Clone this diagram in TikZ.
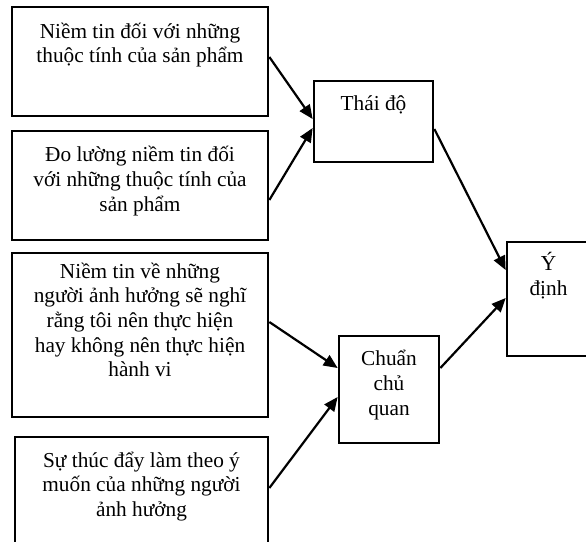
\documentclass[tikz,border=0pt]{standalone}
\usepackage{fontspec}
\setmainfont{Liberation Serif}
\usetikzlibrary{arrows.meta,calc}
\tikzset{
  box/.style={draw=black, line width=2.7pt, inner sep=0pt, rectangle},
  label/.style={anchor=north, inner sep=0pt, align=center, font=\fontsize{21.3}{24.6}\selectfont},
  conn/.style={line width=2.2pt, -{Triangle[length=14pt,width=12pt]}},
}
\newcommand{\topstrut}{\rule{0pt}{20pt}}
\begin{document}
\begin{tikzpicture}[x=1pt,y=-1pt]
\useasboundingbox (0,0) rectangle (586,541);
\clip (0,0) rectangle (586,541);
% boxes
\node[box, minimum width=256pt, minimum height=109pt] (b1) at (140,61.5) {};
\node[box, minimum width=256pt, minimum height=109pt] (b2) at (140,185.5) {};
\node[box, minimum width=256pt, minimum height=164pt] (b3) at (140,335) {};
\node[box, minimum width=253pt, minimum height=123pt] (b4) at (141.5,498.5) {};
\node[box, minimum width=119pt, minimum height=81pt] (t) at (373.5,121.5) {};
\node[box, minimum width=100pt, minimum height=107pt] (c) at (389,389.5) {};
\node[box, minimum width=83pt, minimum height=114pt] (y) at (548.5,299) {};
% texts
\node[label] (b1t) at ($(b1.north)+(0,12.5)$) {\topstrut Niềm tin đối với những\\thuộc tính của sản phẩm};
\node[label] (b2t) at ($(b2.north)+(0,12)$) {\topstrut Đo lường niềm tin đối\\với những thuộc tính của\\sản phẩm};
\node[label] (b3t) at ($(b3.north)+(0,6.5)$) {\topstrut Niềm tin về những\\người ảnh hưởng sẽ nghĩ\\rằng tôi nên thực hiện\\hay không nên thực hiện\\hành vi};
\node[label] (b4t) at ($(b4.north)+(0,11.5)$) {\topstrut Sự thúc đẩy làm theo ý\\muốn của những người\\ảnh hưởng};
\node[label] (tt) at ($(t.north)+(0,11)$) {\topstrut Thái độ};
\node[label] (ct) at ($(c.north)+(0,11)$) {\topstrut Chuẩn\\chủ\\quan};
\node[label] (yt) at ($(y.north)+(0,10)$) {\topstrut Ý\\định};
% connectors
\draw[conn] ($(b1.east)+(0,-4.5)$) -- ($(t.west)+(0,-2.5)$);
\draw[conn] ($(b2.east)+(0,14.5)$) -- ($(t.west)+(0,6.5)$);
\draw[conn] ($(t.east)+(0,7.5)$) -- ($(y.west)+(0,-29)$);
\draw[conn] ($(b3.east)+(0,-13)$) -- ($(c.west)+(0,-21.5)$);
\draw[conn] ($(b4.east)+(0,-10.5)$) -- ($(c.west)+(0,7.5)$);
\draw[conn] ($(c.east)+(0,-21.5)$) -- ($(y.west)+(0,-1)$);
\end{tikzpicture}
\end{document}
